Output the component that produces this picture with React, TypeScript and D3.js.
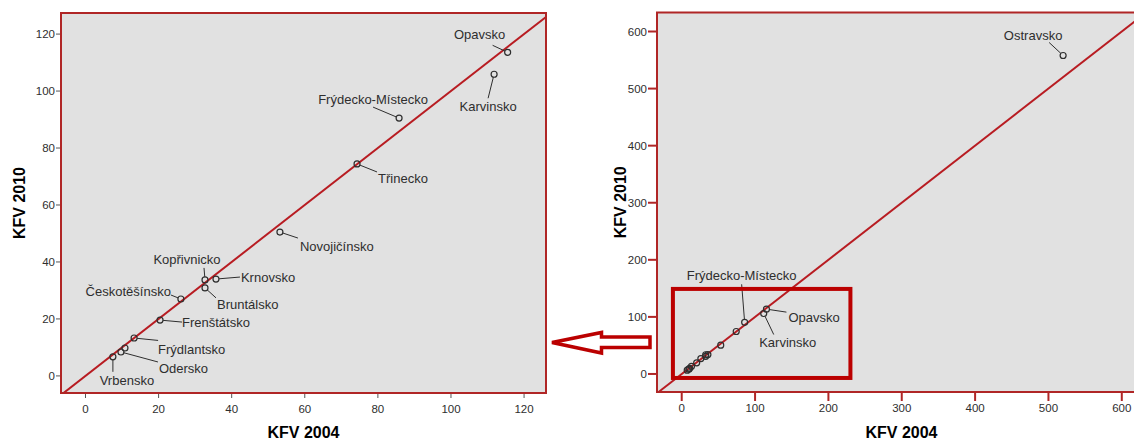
import React from "react";
import * as d3 from "d3";

// ---- Data (KFV 2004 vs KFV 2010 by region) ----
const regions = [
  "Ostravsko", "Opavsko", "Karvinsko", "Frýdecko-Místecko", "Třinecko", "Novojičínsko",
  "Kopřivnicko", "Krnovsko", "Bruntálsko", "Českotěšínsko", "Frenštátsko",
  "Frýdlantsko", "Bílovecko", "Odersko", "Vrbensko",
];
const kfv2004 = [520, 115.5, 111.8, 85.8, 74.3, 53.2, 32.7, 35.7, 32.7, 26.1, 20.4, 13.3, 10.8, 9.7, 7.5];
const kfv2010 = [558, 113.6, 105.9, 90.5, 74.4, 50.5, 33.7, 34.0, 30.9, 27.0, 19.6, 13.3, 9.8, 8.4, 6.7];

const leftTicks = [0, 20, 40, 60, 80, 100, 120];
const rightTicks = [0, 100, 200, 300, 400, 500, 600];
const xTitle = "KFV 2004";
const yTitle = "KFV 2010";

// zoom window shown on the right chart (data units)
const zoomX = [-12, 230];
const zoomY = [-7, 149];

// ---- Label layout (pixel offsets from point: text dx,dy, anchor; leader end lx,ly) ----
type Lab = { name: string; dx: number; dy: number; anchor: string; lx: number; ly: number };
const leftLabels: Lab[] = [
  { name: "Opavsko", dx: -28, dy: -18, anchor: "middle", lx: -15, ly: -7 },
  { name: "Karvinsko", dx: -6, dy: 32, anchor: "middle", lx: -6, ly: 24 },
  { name: "Frýdecko-Místecko", dx: -26, dy: -19, anchor: "middle", lx: -26, ly: -11 },
  { name: "Třinecko", dx: 21, dy: 15, anchor: "start", lx: 20, ly: 8 },
  { name: "Novojičínsko", dx: 20, dy: 14, anchor: "start", lx: 18, ly: 6 },
  { name: "Kopřivnicko", dx: -18, dy: -20, anchor: "middle", lx: -1, ly: -12 },
  { name: "Krnovsko", dx: 25, dy: -2, anchor: "start", lx: 24, ly: -2 },
  { name: "Bruntálsko", dx: 12, dy: 17, anchor: "start", lx: 11, ly: 10 },
  { name: "Českotěšínsko", dx: -10, dy: -7, anchor: "end", lx: -10, ly: -4 },
  { name: "Frenštátsko", dx: 22, dy: 2, anchor: "start", lx: 22, ly: 2 },
  { name: "Frýdlantsko", dx: 24, dy: 11, anchor: "start", lx: 24, ly: 2.4 },
  { name: "Odersko", dx: 38, dy: 17, anchor: "start", lx: 37, ly: 10 },
  { name: "Vrbensko", dx: 14, dy: 24, anchor: "middle", lx: 0, ly: 15 },
];
const rightLabels: Lab[] = [
  { name: "Ostravsko", dx: -30, dy: -20, anchor: "middle", lx: -14, ly: -13 },
  { name: "Frýdecko-Místecko", dx: -3, dy: -47, anchor: "middle", lx: -3, ly: -38 },
  { name: "Opavsko", dx: 22, dy: 8, anchor: "start", lx: 20, ly: 3 },
  { name: "Karvinsko", dx: 24, dy: 29, anchor: "middle", lx: 10, ly: 21 },
];

const FONT = "'Liberation Sans', Arial, Helvetica, sans-serif";
const FRAME = "#b02626";
const LINE = "#b81c22";
const ANNOT = "#bb0000";
const BG = "#e1e1e1";
const INK = "#2e2e2e";

type PanelProps = {
  id: string;
  x0: number; x1: number; y0: number; y1: number;
  xDom: [number, number]; yDom: [number, number];
  ticks: number[];
  labels: Lab[];
  tickColor: string; tickWidth: number; tickLen: number;
  yTitleX: number; xLabelY: number;
  zoomBox?: boolean;
};

function Panel(p: PanelProps) {
  const x = d3.scaleLinear().domain(p.xDom).range([p.x0, p.x1]);
  const y = d3.scaleLinear().domain(p.yDom).range([p.y1, p.y0]);
  const lo = Math.min(p.xDom[0], p.yDom[0]);
  const hi = Math.max(p.xDom[1], p.yDom[1]);
  const diag = d3.line<number>().x((v) => x(v)).y((v) => y(v))([lo, hi]) || "";
  const idx = (n: string) => regions.indexOf(n);
  const inView = regions.map((_, i) => kfv2004[i] <= p.xDom[1] && kfv2010[i] <= p.yDom[1]);
  return (
    <g>
      <defs>
        <clipPath id={p.id}>
          <rect x={p.x0} y={p.y0} width={p.x1 - p.x0} height={p.y1 - p.y0} />
        </clipPath>
      </defs>
      <rect x={p.x0} y={p.y0} width={p.x1 - p.x0} height={p.y1 - p.y0} fill={BG} />
      <g clipPath={`url(#${p.id})`}>
        <path d={diag} stroke={LINE} strokeWidth={2} fill="none" />
        {regions.map((r, i) =>
          inView[i] ? (
            <circle key={r} cx={x(kfv2004[i])} cy={y(kfv2010[i])} r={3} fill="none" stroke={INK} strokeWidth={1.2} />
          ) : null
        )}
        {p.labels.map((l) => {
          const i = idx(l.name);
          const px = x(kfv2004[i]);
          const py = y(kfv2010[i]);
          const len = Math.hypot(l.lx, l.ly) || 1;
          const sx = px + (l.lx / len) * 3;
          const sy = py + (l.ly / len) * 3;
          return (
            <g key={l.name}>
              <line x1={sx} y1={sy} x2={px + l.lx} y2={py + l.ly} stroke={INK} strokeWidth={1} />
              <text x={px + l.dx} y={py + l.dy} textAnchor={l.anchor as any} dominantBaseline="central"
                fontSize={13} fill={INK} fontFamily={FONT}>{l.name}</text>
            </g>
          );
        })}
        {p.zoomBox ? (
          <rect x={x(zoomX[0])} y={y(zoomY[1])} width={x(zoomX[1]) - x(zoomX[0])} height={y(zoomY[0]) - y(zoomY[1])}
            fill="none" stroke={ANNOT} strokeWidth={4} />
        ) : null}
      </g>
      <rect x={p.x0} y={p.y0} width={p.x1 - p.x0} height={p.y1 - p.y0} fill="none" stroke={FRAME} strokeWidth={2} />
      {p.ticks.map((t) => (
        <g key={"y" + t}>
          <line x1={p.x0 - p.tickLen} x2={p.x0 - 1} y1={y(t)} y2={y(t)} stroke={p.tickColor} strokeWidth={p.tickWidth} />
          <text x={p.x0 - p.tickLen - 1} y={y(t)} textAnchor="end" dominantBaseline="central" fontSize={11.5} fill={INK} fontFamily={FONT}>{t}</text>
        </g>
      ))}
      {p.ticks.map((t) => (
        <g key={"x" + t}>
          <line x1={x(t)} x2={x(t)} y1={p.y1 + 1} y2={p.y1 + p.tickLen} stroke={p.tickColor} strokeWidth={p.tickWidth} />
          <text x={x(t)} y={p.xLabelY} textAnchor="middle" dominantBaseline="central" fontSize={11.5} fill={INK} fontFamily={FONT}>{t}</text>
        </g>
      ))}
      <text x={(p.x0 + p.x1) / 2} y={432} textAnchor="middle" dominantBaseline="central" fontSize={16} fontWeight="bold" fill="#000" fontFamily={FONT}>{xTitle}</text>
      <text transform={`translate(${p.yTitleX},${(p.y0 + p.y1) / 2}) rotate(-90)`} textAnchor="middle" fontSize={16}
        fontWeight="bold" fill="#000" fontFamily={FONT}>{yTitle}</text>
    </g>
  );
}

export default function App() {
  // hollow arrow pointing from right chart to left chart
  const arrow = "M552,342.5 L601.5,332.5 L601.5,337 L650,337 L650,347.5 L601.5,347.5 L601.5,353 Z";
  return (
    <svg width={1134} height={439} style={{ position: "absolute", left: 0, top: 0, background: "#fff" }}
      fontFamily={FONT}>
      <Panel id="clipL" x0={61} x1={546} y0={13} y1={393} xDom={[-6.7, 126]} yDom={[-6, 127.4]}
        ticks={leftTicks} labels={leftLabels} tickColor="#555" tickWidth={1} tickLen={5}
        yTitleX={25} xLabelY={409} />
      <Panel id="clipR" x0={657} x1={1146} y0={12.5} y1={392} xDom={[-33.7, 633]} yDom={[-31.6, 633.3]}
        ticks={rightTicks} labels={rightLabels} tickColor={FRAME} tickWidth={2} tickLen={9}
        yTitleX={626} xLabelY={408} zoomBox />
      <path d={arrow} fill="#fff" stroke={ANNOT} strokeWidth={3.5} strokeLinejoin="miter" />
    </svg>
  );
}
